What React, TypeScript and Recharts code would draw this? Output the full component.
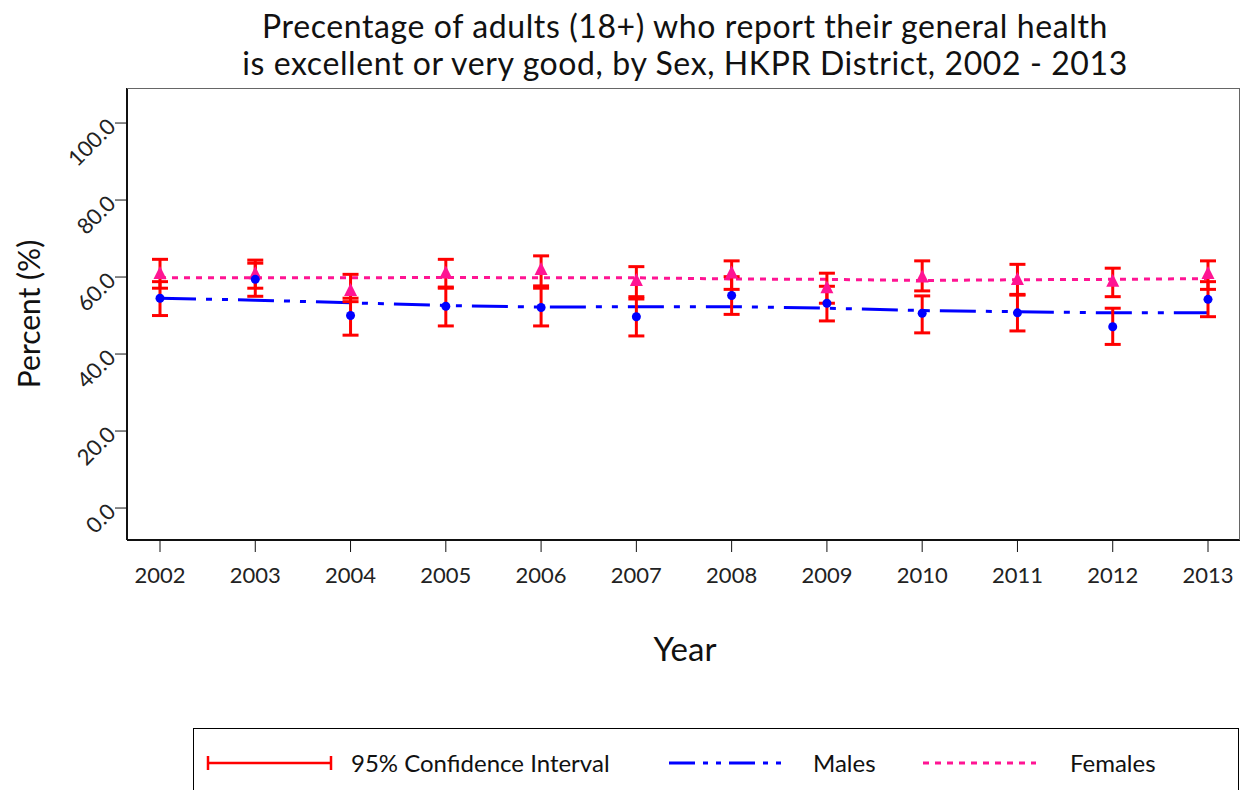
import React from 'react';
import { ComposedChart, Line, XAxis, YAxis, ErrorBar } from 'recharts';

const years = ['2002', '2003', '2004', '2005', '2006', '2007', '2008', '2009', '2010', '2011', '2012', '2013'];

const malePct = [54.5, 59.4, 50.0, 52.4, 52.1, 49.7, 55.2, 53.2, 50.6, 50.7, 47.1, 54.2];
const maleLow = [50.0, 55.0, 44.9, 47.3, 47.3, 44.7, 50.3, 48.6, 45.5, 46.0, 42.5, 49.7];
const maleHigh = [58.8, 63.6, 54.5, 57.4, 57.1, 54.3, 60.1, 57.6, 55.1, 55.3, 51.9, 58.8];

const femalePct = [60.8, 60.7, 56.4, 60.9, 61.8, 59.0, 60.9, 57.1, 59.9, 59.2, 58.8, 60.8];
const femaleLow = [57.1, 57.1, 53.6, 57.1, 57.7, 54.9, 56.8, 53.2, 56.4, 55.5, 54.9, 56.8];
const femaleHigh = [64.6, 64.4, 60.7, 64.6, 65.5, 62.7, 64.2, 61.0, 64.2, 63.3, 62.3, 64.2];

const maleTrend = [54.5, 54.0, 53.3, 52.6, 52.2, 52.3, 52.3, 51.9, 51.3, 51.0, 50.7, 50.7];
const femaleTrend = [59.8, 59.8, 59.8, 59.9, 59.8, 59.8, 59.5, 59.4, 59.1, 59.3, 59.4, 59.6];

const yTicks = [0, 20, 40, 60, 80, 100];

const data = years.map((year, i) => ({
  year,
  male: malePct[i],
  maleErr: [malePct[i] - maleLow[i], maleHigh[i] - malePct[i]],
  female: femalePct[i],
  femaleErr: [femalePct[i] - femaleLow[i], femaleHigh[i] - femalePct[i]],
  maleTrend: maleTrend[i],
  femaleTrend: femaleTrend[i],
}));

const FONT = 'Lato, "Open Sans", sans-serif';

const YTick = ({ x, y, payload }: any) => (
  <text
    x={x - 1}
    y={y}
    dy={7}
    textAnchor="end"
    fontSize={22}
    fill="#222"
    fontFamily={FONT}
    transform={`rotate(-45, ${x - 1}, ${y})`}
  >
    {Number(payload.value).toFixed(1)}
  </text>
);

const MaleDot = (props: any) => {
  const { cx, cy, index } = props;
  if (cx == null || cy == null) return <g key={`m${index}`} />;
  return <circle key={`m${index}`} cx={cx} cy={cy} r={4.5} fill="#0000ff" />;
};

const FemaleDot = (props: any) => {
  const { cx, cy, index } = props;
  if (cx == null || cy == null) return <g key={`f${index}`} />;
  return (
    <polygon
      key={`f${index}`}
      points={`${cx},${cy - 8} ${cx - 6.5},${cy + 5} ${cx + 6.5},${cy + 5}`}
      fill="#ff1493"
    />
  );
};

const LegendBox = () => (
  <div
    style={{
      position: 'absolute',
      left: 193,
      top: 728,
      width: 1046,
      height: 70,
      border: '1.5px solid #000',
      boxSizing: 'border-box',
    }}
  >
    <svg width={1046} height={70} style={{ position: 'absolute', left: 0, top: 0 }}>
      <line x1={14} y1={34} x2={137} y2={34} stroke="#ff0000" strokeWidth={2.5} />
      <line x1={14} y1={27} x2={14} y2={41} stroke="#ff0000" strokeWidth={2.5} />
      <line x1={137} y1={27} x2={137} y2={41} stroke="#ff0000" strokeWidth={2.5} />
      <line x1={475} y1={34} x2={587} y2={34} stroke="#0000ff" strokeWidth={3} strokeDasharray="26 8 5 8 5 8" />
      <line x1={729} y1={34} x2={842} y2={34} stroke="#ff1493" strokeWidth={3} strokeDasharray="6 6" />
      <text x={157} y={43} fontSize={24} fontFamily={FONT} fill="#111">95% Confidence Interval</text>
      <text x={619} y={43} fontSize={24} fontFamily={FONT} fill="#111">Males</text>
      <text x={876} y={43} fontSize={24} fontFamily={FONT} fill="#111">Females</text>
    </svg>
  </div>
);

export default function App() {
  return (
    <div style={{ position: 'absolute', left: 0, top: 0, width: 1243, height: 790, background: '#fff', overflow: 'hidden' }}>
      <div
        style={{
          position: 'absolute',
          left: 127,
          width: 1116,
          top: 7,
          textAlign: 'center',
          fontFamily: FONT,
          fontSize: 32,
          letterSpacing: '0.6px',
          lineHeight: '37px',
          color: '#111',
        }}
      >
        Precentage of adults (18+) who report their general health
        <br />
        is excellent or very good, by Sex, HKPR District, 2002 - 2013
      </div>
      <ComposedChart
        width={1243}
        height={790}
        data={data}
        margin={{ top: 88, right: 3, bottom: 220, left: 67 }}
        style={{ position: 'absolute', left: 0, top: 0 }}
      >
        <XAxis
          dataKey="year"
          height={30}
          padding={{ left: 33, right: 32 }}
          axisLine={{ stroke: '#111', strokeWidth: 2 }}
          tickLine={{ stroke: '#111' }}
          tickSize={12}
          tickMargin={15}
          tick={{ fontSize: 22, fill: '#222', fontFamily: FONT }}
          interval={0}
        />
        <YAxis
          width={60}
          type="number"
          domain={[-8.3, 109.1]}
          ticks={yTicks}
          allowDataOverflow
          axisLine={{ stroke: '#111', strokeWidth: 2 }}
          tickLine={{ stroke: '#111' }}
          tickSize={12}
          tick={<YTick />}
        />
        <Line
          dataKey="maleTrend"
          stroke="#0000ff"
          strokeWidth={3}
          strokeDasharray="36 10 6 10 6 10"
          dot={false}
          activeDot={false}
          type="linear"
          isAnimationActive={false}
        />
        <Line
          dataKey="femaleTrend"
          stroke="#ff1493"
          strokeWidth={3}
          strokeDasharray="6 6"
          dot={false}
          activeDot={false}
          type="linear"
          isAnimationActive={false}
        />
        <Line dataKey="female" stroke="none" dot={<FemaleDot />} activeDot={false} isAnimationActive={false}>
          <ErrorBar dataKey="femaleErr" width={8} stroke="#ff0000" strokeWidth={3} direction="y" />
        </Line>
        <Line dataKey="male" stroke="none" dot={<MaleDot />} activeDot={false} isAnimationActive={false}>
          <ErrorBar dataKey="maleErr" width={8} stroke="#ff0000" strokeWidth={3} direction="y" />
        </Line>
      </ComposedChart>
      <div
        style={{
          position: 'absolute',
          left: 127,
          top: 88,
          width: 1113,
          height: 452,
          borderTop: '1px solid #666',
          borderRight: '1px solid #666',
          boxSizing: 'border-box',
          pointerEvents: 'none',
        }}
      />
      <svg width={1243} height={790} style={{ position: 'absolute', left: 0, top: 0, pointerEvents: 'none' }}>
        <text
          x={28}
          y={314}
          transform="rotate(-90, 28, 314)"
          textAnchor="middle"
          dominantBaseline="central"
          fontSize={30}
          fontFamily={FONT}
          fill="#111"
        >
          Percent (%)
        </text>
        <text x={685} y={648} textAnchor="middle" dominantBaseline="central" fontSize={33} fontFamily={FONT} fill="#111">
          Year
        </text>
      </svg>
      <LegendBox />
    </div>
  );
}
